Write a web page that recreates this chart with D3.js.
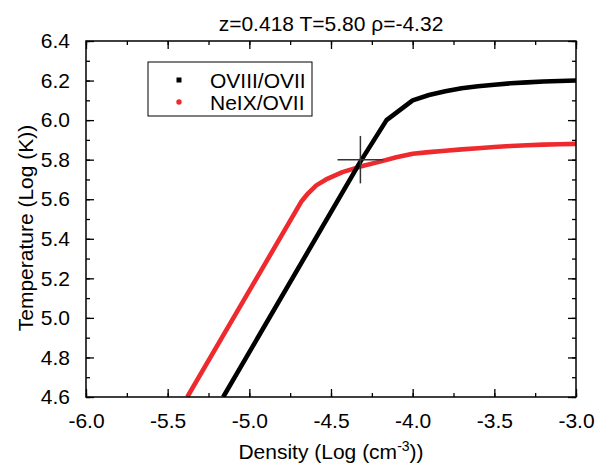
<!DOCTYPE html>
<html>
<head>
<meta charset="utf-8">
<script src="https://cdn.jsdelivr.net/npm/d3@7.9.0/dist/d3.min.js"></script>
<style>
  body { margin: 0; background: #fff; }
  svg { display: block; font-family: "Liberation Sans", Arial, sans-serif; }
</style>
</head>
<body>
<svg id="chart" width="614" height="466"></svg>
<script>
// values
const densityOVIII = [-5.16, -4.32, -4.16, -4.0, -3.9, -3.8, -3.7, -3.6, -3.5, -3.4, -3.3, -3.2, -3.1, -3.0];
const tempOVIII    = [4.6, 5.79, 6.0, 6.10, 6.127, 6.146, 6.161, 6.171, 6.179, 6.186, 6.191, 6.195, 6.198, 6.2];
const densityNeIX  = [-5.38, -4.68, -4.64, -4.59, -4.53, -4.43, -4.32, -4.2, -4.1, -4.0, -3.9, -3.8, -3.7, -3.6, -3.5, -3.4, -3.3, -3.2, -3.1, -3.0];
const tempNeIX     = [4.6, 5.59, 5.63, 5.67, 5.70, 5.737, 5.765, 5.79, 5.812, 5.83, 5.838, 5.845, 5.852, 5.858, 5.864, 5.869, 5.873, 5.876, 5.878, 5.88];
const seriesNames  = ['OVIII/OVII', 'NeIX/OVII'];
const seriesColors = ['#000000', '#ee2a2e'];
const crossPoint   = { x: -4.32, y: 5.80, dx: 0.14, dy: 0.12 };
const xTicks = [-6.0, -5.5, -5.0, -4.5, -4.0, -3.5, -3.0];
const yTicks = [4.6, 4.8, 5.0, 5.2, 5.4, 5.6, 5.8, 6.0, 6.2, 6.4];

const svg = d3.select('#chart');
const margin = { top: 41, right: 38, bottom: 69, left: 86 };
const W = 614 - margin.left - margin.right;
const H = 466 - margin.top - margin.bottom;

const x = d3.scaleLinear().domain([-6, -3]).range([0, W]);
const y = d3.scaleLinear().domain([4.6, 6.4]).range([H, 0]);

const g = svg.append('g').attr('transform', `translate(${margin.left},${margin.top})`);

g.append('clipPath').attr('id', 'clip')
  .append('rect').attr('width', W).attr('height', H);

// curves
const line = d3.line().x(d => x(d[0])).y(d => y(d[1]));
const series = [
  d3.zip(densityOVIII, tempOVIII),
  d3.zip(densityNeIX, tempNeIX)
];
// red first, black on top where they cross
[1, 0].forEach(i => {
  g.append('path')
    .attr('d', line(series[i]))
    .attr('fill', 'none')
    .attr('stroke', seriesColors[i])
    .attr('stroke-width', 4.6)
    .attr('stroke-linejoin', 'round')
    .attr('clip-path', 'url(#clip)');
});

// cross marker
g.append('line')
  .attr('x1', x(crossPoint.x - crossPoint.dx)).attr('x2', x(crossPoint.x + crossPoint.dx))
  .attr('y1', y(crossPoint.y)).attr('y2', y(crossPoint.y))
  .attr('stroke', '#333').attr('stroke-width', 1.5);
g.append('line')
  .attr('x1', x(crossPoint.x)).attr('x2', x(crossPoint.x))
  .attr('y1', y(crossPoint.y - crossPoint.dy)).attr('y2', y(crossPoint.y + crossPoint.dy))
  .attr('stroke', '#333').attr('stroke-width', 1.5);

// axes (ticks pointing inward)
const xMinor = d3.range(-6, -2.99, 0.25);
const yMinor = d3.range(4.6, 6.41, 0.1);
function styleAxis(sel) {
  sel.select('.domain').remove();
  sel.selectAll('line').attr('stroke', '#000').attr('stroke-width', 1.3);
  sel.selectAll('text').attr('font-size', 21).attr('fill', '#000');
}

const xb = g.append('g').attr('transform', `translate(0,${H})`)
  .call(d3.axisBottom(x).tickValues(xTicks).tickSize(-8).tickPadding(16));
styleAxis(xb);
xb.selectAll('text').text(d => d.toFixed(1));
g.append('g').attr('transform', `translate(0,${H})`)
  .call(d3.axisBottom(x).tickValues(xMinor).tickFormat('').tickSize(-4)).call(styleAxis);

g.append('g')
  .call(d3.axisTop(x).tickValues(xTicks).tickFormat('').tickSize(-8)).call(styleAxis);
g.append('g')
  .call(d3.axisTop(x).tickValues(xMinor).tickFormat('').tickSize(-4)).call(styleAxis);

const yl = g.append('g')
  .call(d3.axisLeft(y).tickValues(yTicks).tickFormat(d3.format('.1f')).tickSize(-8).tickPadding(16));
styleAxis(yl);
g.append('g')
  .call(d3.axisLeft(y).tickValues(yMinor).tickFormat('').tickSize(-4)).call(styleAxis);

g.append('g').attr('transform', `translate(${W},0)`)
  .call(d3.axisRight(y).tickValues(yTicks).tickFormat('').tickSize(-8)).call(styleAxis);
g.append('g').attr('transform', `translate(${W},0)`)
  .call(d3.axisRight(y).tickValues(yMinor).tickFormat('').tickSize(-4)).call(styleAxis);

// frame
g.append('rect')
  .attr('width', W).attr('height', H)
  .attr('fill', 'none').attr('stroke', '#000').attr('stroke-width', 1.5);

// title & axis labels
svg.append('text')
  .attr('x', margin.left + W / 2).attr('y', 31)
  .attr('text-anchor', 'middle').attr('font-size', 21)
  .text('z=0.418 T=5.80 \u03c1=-4.32');

const xl = svg.append('text')
  .attr('x', margin.left + W / 2).attr('y', 459)
  .attr('text-anchor', 'middle').attr('font-size', 21);
xl.append('tspan').text('Density (Log (cm');
xl.append('tspan').attr('font-size', 14).attr('dy', -8).text('-3');
xl.append('tspan').attr('dy', 8).text('))');

svg.append('text')
  .attr('transform', 'translate(33,228) rotate(-90)')
  .attr('text-anchor', 'middle').attr('font-size', 21)
  .text('Temperature (Log (K))');

// legend
const leg = svg.append('g');
leg.append('rect')
  .attr('x', 148).attr('y', 62).attr('width', 164).attr('height', 54)
  .attr('fill', '#fff').attr('stroke', '#000').attr('stroke-width', 1);
seriesNames.forEach((name, i) => {
  const cy = 80 + i * 22;
  if (i === 0) {
    leg.append('rect').attr('x', 176.5).attr('y', cy - 2.5).attr('width', 5).attr('height', 5)
      .attr('fill', seriesColors[i]);
  } else {
    leg.append('circle').attr('cx', 179).attr('cy', cy).attr('r', 2.7)
      .attr('fill', seriesColors[i]);
  }
  leg.append('text')
    .attr('x', 210).attr('y', cy + 7.5)
    .attr('font-size', 21)
    .text(name);
});
</script>
</body>
</html>
